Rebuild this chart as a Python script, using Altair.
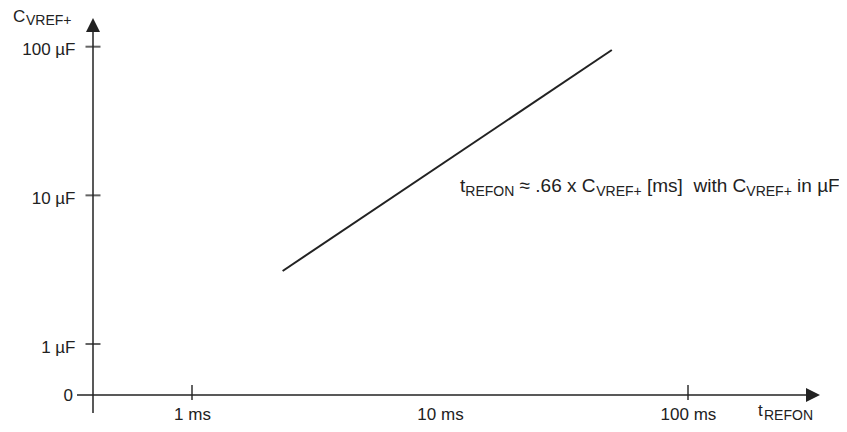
import altair as alt
import pandas as pd

# data
line_t = [2.32, 49.3]      # ms
line_c = [3.10, 95.0]      # µF
x_tick_vals = [1, 100]
x_label_vals = [1, 10, 100]
y_tick_vals = [1, 10, 100]

FONT = "Liberation Sans"
INK = "#222222"
W, H = 727, 377
xdom = [10 ** -0.3992, 10 ** 2.5323]
ydom = [10 ** -0.343, 10 ** 2.193]

xs = alt.Scale(type="log", domain=xdom, nice=False)
ys = alt.Scale(type="log", domain=ydom, nice=False)

xaxis = alt.Axis(values=x_label_vals, labelExpr="datum.value + ' ms'", domain=False, ticks=False,
                 tickSize=0, grid=False, title=None, labelFont=FONT, labelFontSize=17,
                 labelColor=INK, labelPadding=11, labelBaseline="top")
yaxis = alt.Axis(values=y_tick_vals, labelExpr="datum.value + ' µF'", domain=False, ticks=False,
                 tickSize=0, grid=False, title=None, labelFont=FONT, labelFontSize=17,
                 labelColor=INK, labelPadding=18, labelOffset=3)

line_df = pd.DataFrame({"t": line_t, "c": line_c})
line = alt.Chart(line_df).mark_line(color=INK, strokeWidth=2).encode(
    x=alt.X("t:Q", scale=xs, axis=xaxis),
    y=alt.Y("c:Q", scale=ys, axis=yaxis),
)

yticks = alt.Chart(pd.DataFrame({"c": y_tick_vals})).mark_tick(
    color=INK, size=15, thickness=2, orient="horizontal").encode(
    y=alt.Y("c:Q", scale=ys, axis=yaxis), x=alt.value(0))
xticks = alt.Chart(pd.DataFrame({"t": x_tick_vals})).mark_tick(
    color=INK, size=15, thickness=2, orient="vertical").encode(
    x=alt.X("t:Q", scale=xs, axis=xaxis), y=alt.value(H - 2.5))

one = alt.Data(values=[{}])
yaxis_line = alt.Chart(one).mark_rule(color=INK, strokeWidth=1.5).encode(
    x=alt.value(0), y=alt.value(8), y2=alt.value(H + 18))
xaxis_line = alt.Chart(one).mark_rule(color=INK, strokeWidth=1.5).encode(
    x=alt.value(-16), x2=alt.value(W - 8), y=alt.value(H))
yarrow = alt.Chart(one).mark_point(shape="M0,-1L1,1L-1,1Z", size=196, filled=True,
                                   color=INK, opacity=1).encode(
    x=alt.value(0), y=alt.value(7))
xarrow = alt.Chart(one).mark_point(shape="M1,0L-1,-1L-1,1Z", size=196, filled=True,
                                   color=INK, opacity=1).encode(
    x=alt.value(W - 7), y=alt.value(H))


def txt(s, x, y, size=17, align="left", baseline="alphabetic"):
    return alt.Chart(one).mark_text(text=s, font=FONT, fontSize=size, color=INK,
                                    align=align, baseline=baseline).encode(
        x=alt.value(x), y=alt.value(y))


FB, FS = 174, 178  # formula baselines (main, subscript), relative to plot top
texts = [
    txt("0", -20, H + 1, baseline="middle", align="right"),
    txt("C", -80, 4), txt("VREF+", -67, 7, size=14),
    txt("t", 665, 398), txt("REFON", 671, 402, size=14),
    txt("t", 367, FB, size=19), txt("REFON", 372.3, FS, size=14),
    txt("≈ .66 x C", 426.6, FB, size=19), txt("VREF+", 503.2, FS, size=14),
    txt("[ms]", 554, FB, size=19), txt("with C", 600.5, FB, size=19),
    txt("VREF+", 653.3, FS, size=14),
    txt("in µF", 704.1, FB, size=19),
]

chart = alt.layer(line, yticks, xticks, yaxis_line, xaxis_line, yarrow, xarrow, *texts).properties(
    width=W, height=H,
    autosize=alt.AutoSizeParams(type="none"),
    padding={"left": 85, "top": 10, "right": 19, "bottom": 29},
    background="white",
).configure_view(stroke=None)

chart.save("out.html", embed_options={"renderer": "svg", "actions": False})
